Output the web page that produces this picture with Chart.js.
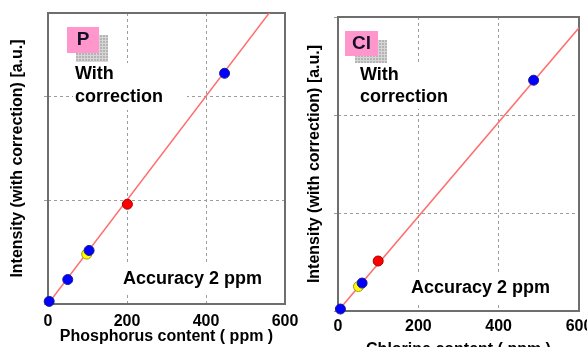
<!DOCTYPE html>
<html>
<head>
<meta charset="utf-8">
<script src="https://cdn.jsdelivr.net/npm/chart.js@4.4.1/dist/chart.umd.min.js"></script>
<style>
  html, body { margin: 0; padding: 0; background: #fff; overflow: hidden; }
  #wrap { position: relative; width: 587px; height: 347px; overflow: hidden; }
  #boxP { position: absolute; left: 0; top: 0; width: 300px; height: 347px; }
  #boxCl { position: absolute; left: 300px; top: 0; width: 287px; height: 360px; }
</style>
</head>
<body>
<div id="wrap">
  <div id="boxP"><canvas id="chartP"></canvas></div>
  <div id="boxCl"><canvas id="chartCl"></canvas></div>
</div>
<script>
// P panel
var pBlueX = [3, 50, 104, 447];
var pBlueY = [5, 47, 103, 444];
var pYellowX = [98];
var pYellowY = [96];
var pRedX = [201];
var pRedY = [192];
var pLineX = [0, 600];
var pLineY = [0, 600];

// Cl panel
var clBlueX = [6, 60, 487];
var clBlueY = [4, 57, 471];
var clYellowX = [51];
var clYellowY = [50];
var clRedX = [100];
var clRedY = [102];
var clLineX = [0, 600];
var clLineY = [0, 578];

// axes
var xTicks = [0, 200, 400, 600];
var yGridP = [0, 200, 400];
var yGridCl = [0, 200, 400, 600];

var FONT = '"Liberation Sans", Arial, sans-serif';
var GRID = "#9c9c9c";

function toPoints(xs, ys) {
  var pts = [];
  for (var i = 0; i < xs.length; i++) pts.push({ x: xs[i], y: ys[i] });
  return pts;
}

// badge, text boxes and frame
var panelDecor = {
  id: "panelDecor",
  beforeDatasetsDraw: function (chart, args, o) {
    var ctx = chart.ctx;
    var a = chart.chartArea;
    ctx.save();

    // white boxes behind texts
    ctx.fillStyle = "#fff";
    ctx.fillRect(o.textBox[0], o.textBox[1], o.textBox[2], o.textBox[3]);
    ctx.fillRect(o.accBox[0], o.accBox[1], o.accBox[2], o.accBox[3]);

    // checkered shadow
    var s = o.shadow;
    ctx.fillStyle = "#b4b4b4";
    ctx.fillRect(s[0], s[1], s[2], s[3]);
    ctx.strokeStyle = "#d6d6d6";
    ctx.lineWidth = 1;
    ctx.beginPath();
    for (var gx = s[0] + 2.5; gx < s[0] + s[2]; gx += 3) { ctx.moveTo(gx, s[1]); ctx.lineTo(gx, s[1] + s[3]); }
    for (var gy = s[1] + 2.5; gy < s[1] + s[3]; gy += 3) { ctx.moveTo(s[0], gy); ctx.lineTo(s[0] + s[2], gy); }
    ctx.stroke();

    // pink badge
    var b = o.badge;
    ctx.fillStyle = "#ff96cc";
    ctx.fillRect(b[0], b[1], b[2], b[3]);
    ctx.fillStyle = "#15102a";
    ctx.font = "bold 19px " + FONT;
    ctx.textAlign = "center";
    ctx.textBaseline = "middle";
    ctx.fillText(o.label, o.labelPos[0], o.labelPos[1]);

    // texts
    ctx.fillStyle = "#000";
    ctx.font = "bold 18px " + FONT;
    ctx.textAlign = "left";
    ctx.fillText("With", o.withPos[0], o.withPos[1]);
    ctx.fillText("correction", o.corrPos[0], o.corrPos[1]);
    ctx.fillText("Accuracy 2 ppm", o.accPos[0], o.accPos[1]);

    // frame
    ctx.strokeStyle = "#6e6e6e";
    ctx.lineWidth = 2;
    ctx.strokeRect(a.left, a.top, a.right - a.left, a.bottom - a.top);
    ctx.restore();
  }
};

function makeChart(id, cfg) {
  var el = document.getElementById(id);
  return new Chart(el, {
    type: "scatter",
    data: {
      datasets: [
        { type: "line", data: toPoints(cfg.lineX, cfg.lineY), borderColor: "#ff6e6e", borderWidth: 1.5, pointRadius: 0, showLine: true, order: 4 },
        { data: toPoints(cfg.yellowX, cfg.yellowY), backgroundColor: "#ffff00", borderColor: "#a89a00", borderWidth: 1, pointRadius: 5, clip: false, order: 3 },
        { data: toPoints(cfg.redX, cfg.redY), backgroundColor: "#ff0000", borderColor: "#a00000", borderWidth: 1, pointRadius: 5, clip: false, order: 2 },
        { data: toPoints(cfg.blueX, cfg.blueY), backgroundColor: "#0000ff", borderColor: "#1a1a90", borderWidth: 1, pointRadius: 5, clip: false, order: 1 }
      ]
    },
    options: {
      responsive: true,
      maintainAspectRatio: false,
      animation: false,
      events: [],
      layout: { padding: cfg.padding },
      plugins: {
        legend: { display: false },
        tooltip: { enabled: false },
        panelDecor: cfg.decor
      },
      scales: {
        x: {
          type: "linear",
          min: 0,
          max: 600,
          afterBuildTicks: function (s) { s.ticks = xTicks.map(function (v) { return { value: v }; }); },
          afterFit: function (s) { s.height = cfg.xHeight; s.paddingLeft = 0; s.paddingRight = 0; },
          grid: { color: GRID, lineWidth: 1, drawTicks: false },
          border: { display: false, dash: [3, 3] },
          ticks: { color: "#000", font: { family: FONT, size: 16, weight: "bold" }, padding: cfg.tickPad, maxRotation: 0, autoSkip: false },
          title: { display: true, text: cfg.xTitle, color: "#000", font: { family: FONT, size: 16, weight: "bold" }, padding: { top: 0, bottom: cfg.xTitlePad } }
        },
        y: {
          type: "linear",
          min: 0,
          max: cfg.yMax,
          afterBuildTicks: function (s) { s.ticks = cfg.yGrid.map(function (v) { return { value: v }; }); },
          afterFit: function (s) { s.width = cfg.yWidth; s.paddingTop = 0; s.paddingBottom = 0; },
          grid: { color: GRID, lineWidth: 1, drawTicks: true, tickLength: 4, tickColor: GRID },
          border: { display: false, dash: [3, 3] },
          ticks: { display: false },
          title: { display: true, text: "Intensity (with correction) [a.u.]", color: "#000", font: { family: FONT, size: 16, weight: "bold" }, padding: { top: cfg.yTitlePad, bottom: 0 } }
        }
      }
    },
    plugins: [panelDecor]
  });
}

makeChart("chartP", {
  blueX: pBlueX, blueY: pBlueY, yellowX: pYellowX, yellowY: pYellowY, redX: pRedX, redY: pRedY,
  lineX: pLineX, lineY: pLineY,
  yMax: 560, yGrid: yGridP,
  padding: { top: 13, right: 15, left: 0, bottom: 0 },
  xHeight: 43, yWidth: 48, tickPad: 8, xTitlePad: 1, yTitlePad: 8,
  xTitle: "Phosphorus content ( ppm )",
  decor: {
    label: "P", badge: [67, 27, 32, 26], shadow: [76, 35, 32, 27], labelPos: [83, 40],
    textBox: [73, 63, 114, 47], withPos: [75, 74], corrPos: [75, 97],
    accBox: [118, 263, 154, 31], accPos: [123, 279]
  }
});

makeChart("chartCl", {
  blueX: clBlueX, blueY: clBlueY, yellowX: clYellowX, yellowY: clYellowY, redX: clRedX, redY: clRedY,
  lineX: clLineX, lineY: clLineY,
  yMax: 600, yGrid: yGridCl,
  padding: { top: 17, right: 8, left: 0, bottom: 0 },
  xHeight: 49, yWidth: 38, tickPad: 6, xTitlePad: 1, yTitlePad: 5,
  xTitle: "Chlorine content ( ppm )",
  decor: {
    label: "Cl", badge: [45, 31, 33, 25], shadow: [55, 40, 32, 23], labelPos: [61.5, 44],
    textBox: [57, 63, 100, 46], withPos: [60, 75], corrPos: [60, 97],
    accBox: [106, 272, 150, 30], accPos: [111, 288]
  }
});
</script>
</body>
</html>
